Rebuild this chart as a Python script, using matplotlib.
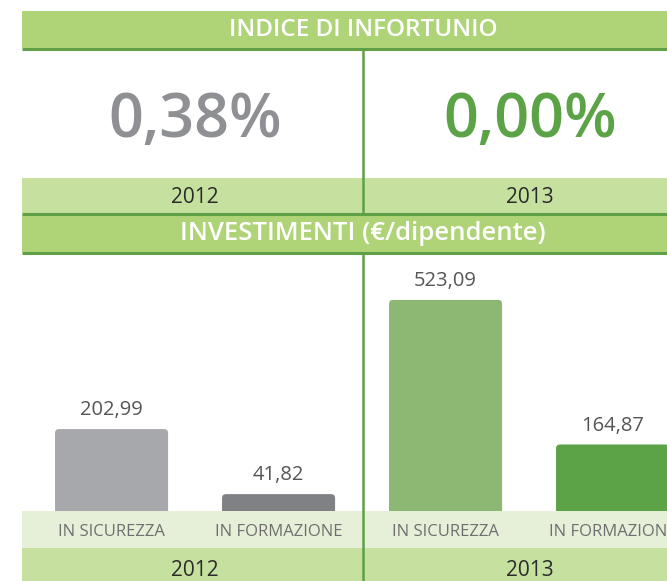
import matplotlib
matplotlib.use("Agg")
import matplotlib.pyplot as plt
from matplotlib.patches import Rectangle, FancyBboxPatch

# data
years = ["2012", "2013"]
injury_index = [0.38, 0.00]
categories = ["IN SICUREZZA", "IN FORMAZIONE"]
invest_2012 = [202.99, 41.82]
invest_2013 = [523.09, 164.87]

# colours
HEAD_GREEN = "#afd478"
LINE_GREEN = "#5f9f46"
YEAR_GREEN = "#c6e09f"
CAT_GREEN = "#e6f0d8"
bar_colors = ["#a7a8ab", "#808185", "#8cb874", "#5ba346"]
big_colors = ["#8f9093", "#5ba346"]

W, H = 667, 581
plt.rcParams["font.family"] = ["Open Sans", "DejaVu Sans"]

fig = plt.figure(figsize=(W / 100, H / 100), dpi=100)
fig.patch.set_facecolor("white")

# background layer in pixel coordinates (y from top)
bg = fig.add_axes([0, 0, 1, 1])
bg.set_xlim(0, W)
bg.set_ylim(H, 0)
bg.axis("off")

LEFT, RIGHT, MID = 22, 705, 363


def band(y0, y1, color):
    bg.add_patch(Rectangle((LEFT, y0), RIGHT - LEFT, y1 - y0, color=color, lw=0, zorder=1))


def hline(y):
    bg.plot([LEFT, RIGHT], [y, y], color=LINE_GREEN, lw=2.2, zorder=3, solid_capstyle="butt")


band(11, 48, HEAD_GREEN)
hline(48.5)
band(178, 214, YEAR_GREEN)
hline(214)
band(215, 252, HEAD_GREEN)
hline(252.5)
band(511, 548, CAT_GREEN)
band(548, 581, YEAR_GREEN)

# vertical divider (not through the header bands)
for y0, y1 in [(49, 214), (253, 581)]:
    bg.plot([MID, MID], [y0, y1], color=LINE_GREEN, lw=1.8, zorder=3)

bg.text(MID, 30, "INDICE DI INFORTUNIO", color="white", fontsize=17.5,
        fontweight="semibold", ha="center", va="center", zorder=4)
bg.text(MID, 234, "INVESTIMENTI (€/dipendente)", color="white", fontsize=18.5,
        fontweight="semibold", ha="center", va="center", zorder=4)

centers = [195, 530]
for cx, yr, val, col in zip(centers, years, injury_index, big_colors):
    bg.text(cx, 137, f"{val:.2f}%".replace(".", ","), color=col, fontsize=44,
            fontweight="semibold", ha="center", va="baseline", zorder=4)
    bg.text(cx, 203, yr, color="#2b2b2b", fontsize=15, fontweight="medium",
            ha="center", va="baseline", zorder=4)
    bg.text(cx, 576, yr, color="#2b2b2b", fontsize=15, fontweight="medium",
            ha="center", va="baseline", zorder=4)

# bars
values = invest_2012 + invest_2013
labels = categories * 2
xpos = list(range(len(values)))

ax = fig.add_axes([0, 70 / H, 1, 251 / H])
ax.patch.set_alpha(0)
ax.set_xlim(-0.668, 3.326)
ax.set_ylim(0, 622)
ax.axis("off")

bars = ax.bar(xpos, values, width=0.677, color=bar_colors)
# swap plain rectangles for rounded ones (bottom corners fall below the axes and are clipped)
x_per_px = (3.326 + 0.668) / W
y_per_px = 622 / 251
for rect, col in zip(bars.patches, bar_colors):
    x, w, h = rect.get_x(), rect.get_width(), rect.get_height()
    rect.set_visible(False)
    ax.add_patch(FancyBboxPatch((x, -20), w, h + 20,
                                boxstyle=f"round,pad=0,rounding_size={4 * x_per_px}",
                                mutation_aspect=y_per_px / x_per_px,
                                fc=col, ec="none", clip_on=True))

for x, v in zip(xpos, values):
    ax.annotate(f"{v:.2f}".replace(".", ","), (x, v), xytext=(0, 10),
                textcoords="offset points", ha="center", va="baseline",
                fontsize=14.5, color="#555555")

for x, lab in zip(xpos, labels):
    bg.text(111.5 + 167 * x, 536, lab, color="#6f6f6f", fontsize=12,
            ha="center", va="baseline", zorder=4)

fig.savefig("out.png", dpi=100)
